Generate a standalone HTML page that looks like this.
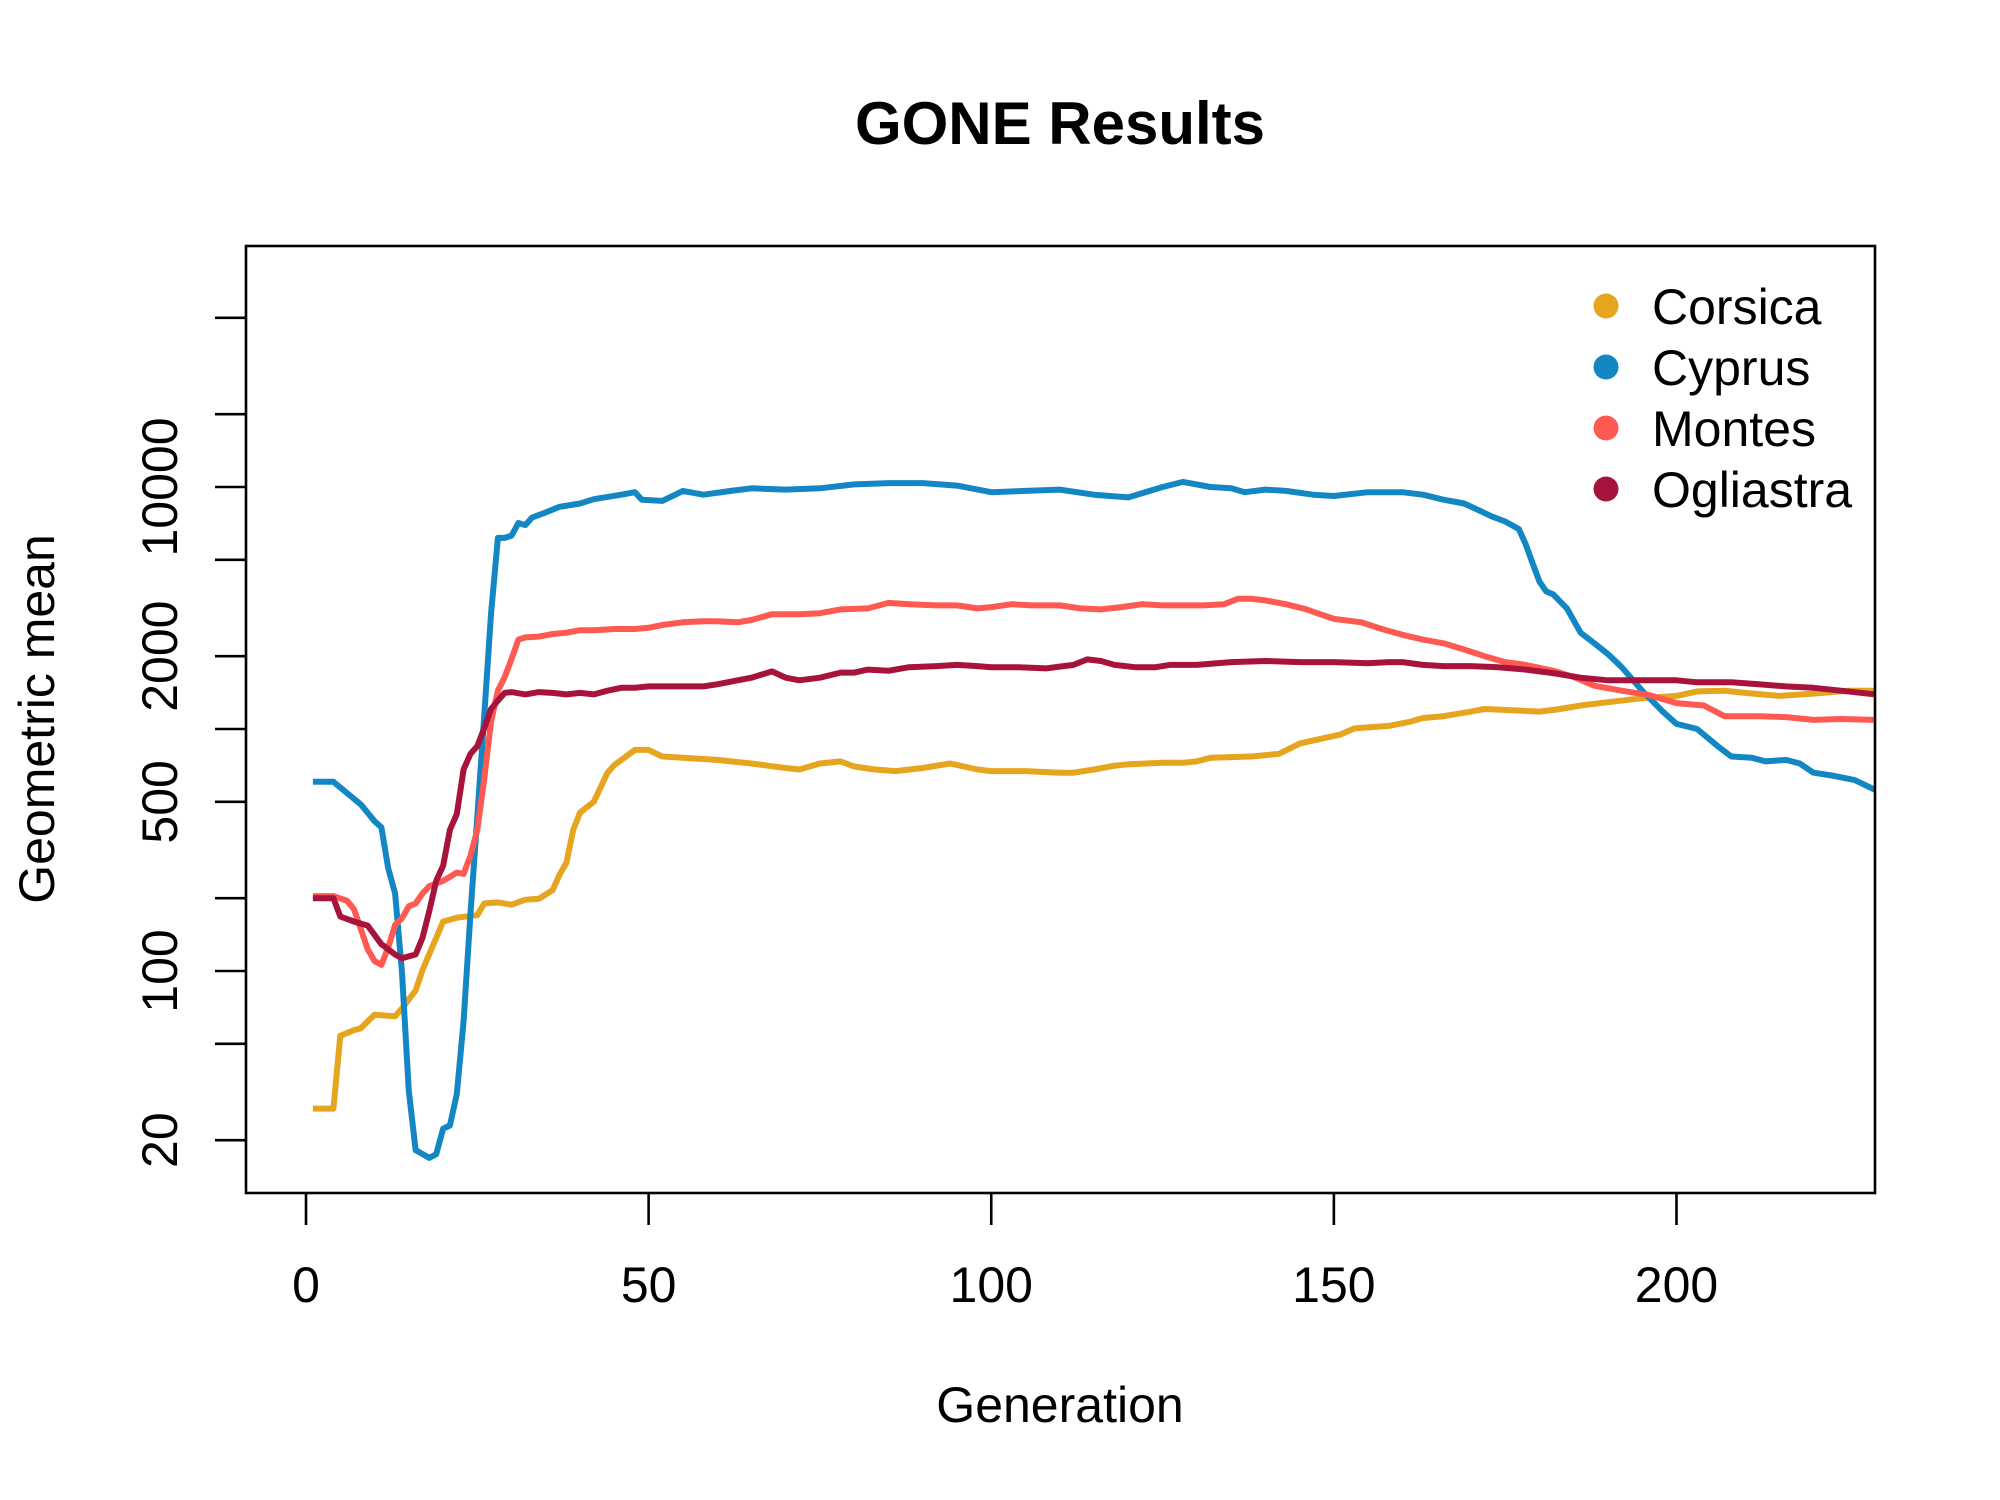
<!DOCTYPE html>
<html><head><meta charset="utf-8"><style>
html,body{margin:0;padding:0;background:#fff}
svg{display:block;font-family:"Liberation Sans",Arial,sans-serif}
</style></head><body>
<svg id="chart" width="2000" height="1500" viewBox="0 0 2000 1500">
<rect width="2000" height="1500" fill="#fff"/>
<text x="1060" y="144" font-size="60" font-weight="bold" text-anchor="middle">GONE Results</text>
<g id="plot"></g>
<rect x="246" y="246" width="1629" height="947" fill="none" stroke="#000" stroke-width="2.6"/>
<text x="1060" y="1422" font-size="50" text-anchor="middle">Generation</text>
<text transform="translate(54,719) rotate(-90)" font-size="50" text-anchor="middle">Geometric mean</text>
<g id="legend"></g>
</svg>
<script>
const xTicks=[0,50,100,150,200];
const yTicks=[20,50,100,200,500,1000,2000,5000,10000,20000,50000];
const yTickLabels=["20","","100","","500","","2000","","10000","",""];
const seriesNames=["Corsica","Cyprus","Montes","Ogliastra"];
const seriesColors=["#E6A51E","#1287C3","#FF5A52","#A8133B"];
const corsicaGen=[1,4,5,7,8,10,13,14,16,17,19,20,22,25,26,28,30,32,34,36,37,38,39,40,42,44,45,48,50,52,55,60,65,70,72,75,78,80,83,86,90,94,98,100,105,110,112,115,118,120,125,128,130,132,138,142,145,148,151,153,158,161,163,166,170,172,176,180,183,186,190,195,200,203,207,210,215,220,225,229];
const corsicaVal=[27,27,54,57,58,66,65,70,83,101,137,160,166,170,190,192,188,197,199,216,250,280,383,452,500,660,710,820,820,770,760,745,720,690,680,720,735,700,680,670,690,720,680,670,670,660,660,680,705,715,725,725,735,760,770,790,870,910,950,1006,1030,1070,1110,1130,1180,1210,1195,1180,1210,1250,1290,1340,1370,1430,1440,1410,1370,1400,1440,1440];
const cyprusGen=[1,4,8,10,11,12,13,14,15,16,18,19,20,21,22,23,24,25,26,27,28,29,30,31,32,33,35,37,40,42,46,48,49,52,55,58,62,65,70,75,80,85,90,95,100,105,110,115,120,125,128,132,135,137,140,143,147,150,155,160,163,166,169,171,173,175,177,178,179,180,181,182,184,186,188,190,192,195,198,200,203,206,208,211,213,216,218,220,223,226,229];
const cyprusVal=[605,605,488,416,392,266,209,100,32,18.2,16.9,17.5,22.3,23,31,62,174,432,1130,2980,6160,6160,6300,7100,6960,7480,7850,8280,8550,8900,9290,9520,8860,8760,9640,9290,9640,9880,9760,9880,10250,10380,10380,10130,9520,9640,9760,9290,9060,10000,10500,10000,9880,9520,9760,9640,9290,9180,9520,9520,9290,8860,8550,8050,7570,7200,6700,5800,4840,4060,3700,3600,3150,2500,2260,2040,1800,1440,1180,1050,1000,850,770,760,735,745,720,660,640,615,560];
const montesGen=[1,4,6,7,9,10,11,12,13,14,15,16,17,18,19,20,21,22,23,24,25,26,27,28,29,30,31,32,34,36,38,40,42,45,48,50,52,55,58,60,63,65,68,72,75,78,82,85,88,92,95,98,100,103,106,110,113,116,119,122,125,128,131,134,136,138,140,143,146,148,150,154,157,160,163,166,169,172,175,178,182,185,188,192,196,200,204,207,212,216,220,224,229];
const montesVal=[204,204,195,180,123,110,106,125,155,165,185,190,209,224,230,236,245,255,252,300,383,620,1070,1440,1640,1950,2340,2390,2410,2470,2500,2560,2560,2590,2590,2620,2690,2760,2790,2790,2760,2820,2980,2980,3010,3120,3150,3320,3280,3240,3240,3150,3190,3280,3240,3240,3150,3120,3190,3280,3240,3240,3240,3280,3450,3450,3400,3280,3120,2980,2850,2760,2590,2450,2340,2260,2130,2000,1890,1840,1740,1640,1510,1440,1380,1280,1250,1130,1130,1120,1090,1100,1090];
const ogliGen=[1,4,5,7,9,11,13,14,16,17,18,19,20,21,22,23,24,25,26,27,28,29,30,32,34,36,38,40,42,44,46,48,50,52,55,58,60,63,65,68,70,72,75,78,80,82,85,88,92,95,98,100,104,108,112,114,116,118,121,124,126,130,135,140,145,150,155,158,160,163,166,170,174,178,182,186,190,195,200,203,208,212,216,220,224,229];
const ogliVal=[200,200,168,160,154,129,117,113,117,137,177,236,272,383,445,680,790,850,1006,1210,1310,1410,1420,1390,1420,1410,1390,1410,1390,1440,1480,1480,1500,1500,1500,1500,1530,1590,1630,1730,1630,1590,1630,1710,1710,1760,1740,1800,1820,1840,1820,1800,1800,1780,1840,1940,1910,1840,1800,1800,1840,1840,1890,1910,1890,1890,1870,1890,1890,1840,1820,1820,1800,1760,1700,1630,1590,1590,1590,1560,1560,1530,1500,1480,1440,1390];

const NS="http://www.w3.org/2000/svg";
function xs(g){return 306+(g-0)*(1676.5-306)/200;}
function ys(v){return 971-242*Math.log10(v/100);}
const plot=document.getElementById('plot');
function mk(tag,attrs,parent){const e=document.createElementNS(NS,tag);for(const k in attrs)e.setAttribute(k,attrs[k]);parent.appendChild(e);return e;}

const xAxis=mk('g',{},plot);


xTicks.forEach(t=>{
  const l=mk('line',{x1:xs(t),x2:xs(t),y1:1193,y2:1225,stroke:'#000','stroke-width':2.6},xAxis);
  
  
  const tx=mk('text',{x:xs(t),y:1302,'font-size':50,'text-anchor':'middle'},xAxis);
  tx.textContent=String(t);
  
  
});
const yAxis=mk('g',{},plot);


yTicks.forEach((t,i)=>{
  const l=mk('line',{x1:215,x2:246,y1:ys(t),y2:ys(t),stroke:'#000','stroke-width':2.6},yAxis);
  
  
  if(yTickLabels[i]){
    const tx=mk('text',{transform:`translate(177,${ys(t)}) rotate(-90)`,'font-size':50,'text-anchor':'middle'},yAxis);
    tx.textContent=yTickLabels[i];
    
    
  }
});
const clip=mk('clipPath',{id:'pc'},plot);
mk('rect',{x:246,y:246,width:1629,height:947},clip);
const gens=[corsicaGen,cyprusGen,montesGen,ogliGen];
const vals=[corsicaVal,cyprusVal,montesVal,ogliVal];
seriesNames.forEach((n,i)=>{
  const pts=gens[i].map((g,j)=>xs(g).toFixed(1)+','+ys(vals[i][j]).toFixed(1)).join(' ');
  const p=mk('polyline',{points:pts,fill:'none',stroke:seriesColors[i],'stroke-width':6,'stroke-linejoin':'round','clip-path':'url(#pc)'},plot);
  
  
});
const leg=document.getElementById('legend');


seriesNames.forEach((n,i)=>{
  const y=306+i*61;
  const g=mk('g',{},leg);
  
  
  mk('circle',{cx:1606,cy:y,r:12.5,fill:seriesColors[i]},g);
  const t=mk('text',{x:1652,y:y+18,'font-size':50},g);
  t.textContent=n;
});
</script>
</body></html>
